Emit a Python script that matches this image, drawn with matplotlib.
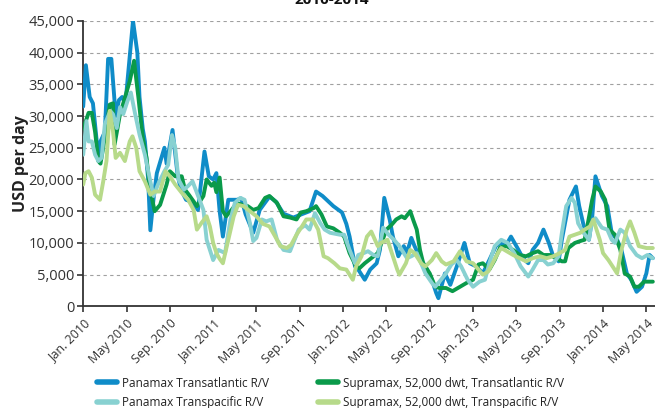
import matplotlib
matplotlib.use("Agg")
import matplotlib.pyplot as plt
import matplotlib.transforms as mtransforms

plt.rcParams['font.family'] = ['Open Sans', 'DejaVu Sans']

# months counted from Jan. 2010 (0 = Jan. 2010)
tick_months = list(range(0, 53, 4))
tick_labels = ["Jan. 2010", "May 2010", "Sep. 2010", "Jan. 2011", "May 2011", "Sep. 2011",
               "Jan. 2012", "May 2012", "Sep. 2012", "Jan. 2013", "May 2013", "Sep. 2013",
               "Jan. 2014", "May 2014"]

# Panamax Transatlantic R/V
pta_m = [0.0, 0.25, 0.6, 0.9, 1.4, 1.6, 2.0, 2.3, 2.6, 3.0, 3.3, 3.6, 3.9, 4.6, 5.0, 5.2, 5.5, 5.7,
         6.0, 6.2, 6.5, 6.8, 7.5, 7.7, 8.25, 8.7, 9.0, 9.5, 10.0, 10.6, 11.2, 11.6, 12.0, 12.3, 12.6,
         12.9, 13.4, 14.2, 14.6, 15.0, 15.7, 16.3, 17.2, 17.8, 18.5, 19.4, 20.3, 20.9, 21.5, 22.1,
         23.1, 23.9, 24.3, 24.6, 25.1, 25.4, 26.0, 26.5, 27.1, 27.4, 27.8, 28.3, 28.6, 29.1, 29.6,
         29.9, 30.3, 30.6, 31.2, 31.6, 32.2, 32.6, 32.8, 33.4, 33.9, 34.5, 35.2, 35.7, 36.3, 36.9,
         37.5, 38.1, 38.5, 39.0, 39.5, 40.2, 40.6, 41.1, 41.5, 42.0, 42.5, 43.0, 43.4, 43.9, 44.2,
         44.9, 45.5, 45.8, 46.3, 46.7, 47.0, 47.3, 47.9, 48.4, 48.8, 49.3, 49.7, 50.2, 50.6, 51.1,
         51.6, 52.0, 52.3, 52.6]
pta_v = [31500, 38000, 33000, 32000, 23500, 26000, 27500, 39000, 39000, 30000, 32500, 33000, 32000,
         45000, 40000, 33000, 28000, 26000, 20000, 12000, 17000, 21000, 25000, 22500, 27800, 21000,
         18500, 16800, 16500, 15200, 24400, 20500, 20000, 21000, 15000, 11000, 16800, 16800, 17000,
         14500, 11600, 15200, 17300, 16500, 14600, 14000, 14600, 15000, 18100, 17400, 15800, 14800,
         13000, 11000, 6300, 5800, 4200, 5800, 6800, 8900, 17100, 13700, 11000, 7900, 9500, 8500,
         10800, 9500, 7300, 6300, 4200, 2100, 1300, 5200, 3400, 6300, 10000, 6800, 6300, 5200, 7300,
         9500, 10000, 9500, 11000, 8900, 7600, 6800, 8900, 10000, 12100, 10000, 7900, 7100, 10500,
         16800, 18900, 15800, 12100, 10500, 14000, 20500, 17400, 15800, 11600, 10500, 8900, 5200,
         4200, 2300, 3100, 5200, 8100, 7600]

# Panamax Transpacific R/V
ptp_m = [0.0, 0.3, 0.5, 0.8, 1.1, 1.4, 1.7, 2.0, 2.5, 2.75, 3.1, 3.4, 3.7, 4.1, 4.4, 4.8, 5.2, 5.7,
         6.2, 6.5, 6.9, 7.5, 7.85, 8.2, 8.5, 8.8, 9.3, 9.7, 10.1, 10.5, 11.1, 11.4, 12.0, 12.5, 13.1,
         13.6, 14.0, 14.5, 14.9, 15.4, 15.7, 16.0, 16.5, 16.9, 17.4, 17.9, 18.5, 19.1, 19.4, 19.9,
         20.5, 20.9, 21.4, 21.9, 22.3, 22.8, 23.7, 24.1, 24.6, 25.1, 25.4, 25.9, 26.3, 26.8, 27.2,
         27.7, 28.2, 28.7, 29.2, 29.9, 30.3, 30.8, 31.2, 31.6, 32.2, 32.5, 32.9, 33.5, 34.0, 34.5,
         34.9, 35.5, 36.0, 36.6, 37.1, 37.5, 38.0, 38.6, 39.2, 39.8, 40.4, 41.1, 41.5, 42.0, 42.5,
         42.9, 43.4, 43.9, 44.2, 44.6, 45.1, 45.4, 45.7, 46.2, 46.7, 46.9, 47.3, 47.9, 48.4, 48.8,
         49.1, 49.6, 50.0, 50.5, 51.1, 51.6, 52.1, 52.6]
ptp_v = [23900, 29200, 26000, 26000, 23900, 22900, 23400, 28700, 30800, 30300, 28100, 31400, 30300,
         32400, 33700, 30300, 27100, 23900, 19700, 17400, 19200, 21300, 22300, 27000, 25000, 20000,
         18400, 19000, 19700, 17900, 15200, 10500, 7300, 8900, 8400, 13700, 16300, 17100, 16800,
         13100, 10300, 10800, 13700, 13400, 13700, 10500, 8900, 8700, 10000, 12100, 12800, 12100,
         14700, 13100, 12100, 11600, 11300, 11300, 8900, 6800, 8100, 8400, 8700, 8100, 7900, 12400,
         11300, 10500, 9500, 7600, 7900, 8400, 6800, 5200, 3700, 3100, 3900, 5200, 6600, 7300, 6300,
         4200, 3100, 3900, 4200, 6800, 9500, 10500, 10000, 8400, 6300, 4700, 5800, 7300, 7300, 6600,
         6800, 7900, 11600, 15800, 17100, 16300, 13100, 11600, 10500, 12600, 13900, 12400, 12100,
         10500, 10000, 12100, 11600, 9500, 8100, 7600, 8100, 7600]

# Supramax, 52,000 dwt, Transatlantic R/V
sta_m = [0.0, 0.5, 0.8, 1.1, 1.4, 1.6, 1.85, 2.45, 2.75, 2.9, 3.4, 3.7, 4.3, 4.7, 5.1, 5.5, 5.85,
         6.15, 6.6, 7.1, 7.7, 8.0, 8.5, 9.1, 9.4, 9.8, 10.5, 11.1, 11.4, 11.85, 12.1, 12.3, 12.6,
         12.9, 13.2, 13.7, 14.2, 14.7, 15.2, 15.7, 16.2, 16.8, 17.2, 17.9, 18.5, 19.1, 19.7, 20.1,
         20.6, 21.3, 21.5, 22.0, 22.5, 23.1, 23.7, 24.1, 24.6, 25.2, 25.5, 26.0, 26.6, 27.2, 28.0,
         28.5, 28.9, 29.4, 29.7, 30.2, 30.5, 30.8, 31.1, 31.4, 32.0, 32.5, 32.9, 33.5, 34.1, 34.8,
         35.4, 36.0, 36.5, 36.9, 37.5, 38.0, 38.5, 39.1, 39.7, 40.3, 40.9, 41.5, 42.0, 42.5, 43.1,
         43.7, 44.2, 44.5, 44.8, 45.4, 45.9, 46.3, 46.6, 47.0, 47.3, 47.8, 48.2, 48.6, 49.1, 49.6,
         50.0, 50.5, 50.9, 51.3, 51.8, 52.2, 52.6]
sta_v = [28000, 30500, 30500, 27500, 22900, 22500, 25000, 31800, 32000, 25500, 30300, 32000, 35500,
         38700, 32900, 26600, 23400, 18700, 15000, 16000, 19200, 21300, 20500, 20500, 18400, 17500,
         15800, 17400, 20000, 19000, 19500, 18000, 20300, 15000, 14200, 15200, 16300, 16000, 15800,
         15200, 15500, 17100, 17400, 16300, 14200, 14000, 13700, 14800, 15000, 15500, 15800, 14500,
         12600, 12300, 11600, 11000, 8400, 6300, 6000, 6800, 7600, 8400, 12100, 12900, 13700, 14200,
         13900, 15000, 13500, 12100, 8900, 6800, 5200, 3100, 2900, 2900, 2400, 3100, 3700, 4200,
         6600, 6800, 5800, 7300, 9300, 9500, 8900, 8100, 7900, 8400, 8700, 8100, 8100, 7600, 7100,
         7100, 9200, 10000, 10300, 10500, 13100, 16800, 18900, 18100, 16800, 12100, 11300, 8900,
         5200, 4700, 3100, 3100, 3900, 3900, 3900]

# Supramax, 52,000 dwt, Transpacific R/V
stp_m = [0.0, 0.2, 0.5, 0.8, 1.1, 1.55, 1.85, 2.15, 2.45, 2.75, 3.0, 3.4, 3.85, 4.3, 4.55, 4.9, 5.2,
         5.7, 6.2, 6.6, 7.1, 7.6, 8.0, 8.5, 9.1, 9.7, 10.2, 10.5, 10.9, 11.4, 11.7, 12.0, 12.3, 12.6,
         12.9, 13.4, 13.9, 14.3, 14.8, 15.4, 16.0, 16.6, 17.2, 17.9, 18.2, 18.8, 19.2, 19.7, 20.2,
         20.6, 21.2, 21.7, 22.2, 22.6, 23.2, 23.7, 24.3, 24.9, 25.2, 25.7, 26.2, 26.6, 27.2, 27.5,
         28.1, 28.5, 29.0, 29.2, 29.8, 30.2, 30.6, 31.2, 31.6, 32.2, 32.6, 33.1, 33.5, 34.2, 34.8,
         35.4, 36.0, 36.5, 36.9, 37.4, 37.8, 38.3, 38.6, 39.1, 39.7, 40.3, 40.9, 41.5, 42.2, 42.8,
         43.4, 44.0, 44.5, 44.9, 45.4, 45.9, 46.3, 46.8, 47.1, 47.4, 47.7, 48.0, 48.5, 49.0, 49.3,
         49.7, 50.2, 50.5, 50.9, 51.3, 52.0, 52.6]
stp_v = [19200, 21000, 21300, 20300, 17600, 16800, 19700, 22900, 30800, 27600, 23400, 24200, 22900,
         26000, 26800, 25000, 21300, 19700, 17600, 18100, 18100, 21300, 20500, 19200, 17900, 16800,
         15200, 12100, 13100, 14200, 12600, 10000, 8400, 7500, 6800, 10500, 14200, 16000, 15800,
         15000, 14200, 13000, 12600, 10500, 9500, 9200, 9700, 11300, 12600, 13700, 13700, 12100,
         7900, 7600, 6800, 6000, 5800, 4200, 6300, 7900, 11000, 11800, 9500, 10000, 10500, 8400,
         5800, 5000, 6800, 8900, 8400, 6800, 6300, 7300, 8400, 7100, 6600, 7100, 8700, 7100, 6800,
         5800, 5000, 5500, 6800, 8400, 9200, 8700, 8100, 7600, 7100, 7600, 7900, 7600, 7900, 8400,
         8900, 11000, 11300, 11600, 12100, 12600, 13700, 12100, 10500, 8400, 7300, 6000, 5200, 8900,
         12100, 13400, 11600, 9500, 9200, 9200]

fig = plt.figure(figsize=(6.55, 4.08), dpi=100)
ax = fig.add_axes([0.127, 0.249, 0.873, 0.700])

lw = 2.8
l1, = ax.plot(pta_m, pta_v, color="#0f8cc8", lw=lw, solid_capstyle="round", solid_joinstyle="round",
              label="Panamax Transatlantic R/V", zorder=3)
l3, = ax.plot(sta_m, sta_v, color="#0a9a4a", lw=lw, solid_capstyle="round", solid_joinstyle="round",
              label="Supramax, 52,000 dwt, Transatlantic R/V", zorder=4)
l2, = ax.plot(ptp_m, ptp_v, color="#88d1d1", lw=lw, solid_capstyle="round", solid_joinstyle="round",
              label="Panamax Transpacific R/V", zorder=5)
l4, = ax.plot(stp_m, stp_v, color="#b7da8a", lw=lw, solid_capstyle="round", solid_joinstyle="round",
              label="Supramax, 52,000 dwt, Transpacific R/V", zorder=6)

ax.set_xlim(0, 52.8)
ax.set_ylim(0, 45000)
ax.set_yticks(range(0, 45001, 5000))
ax.set_yticklabels([f"{v:,}" for v in range(0, 45001, 5000)])
for v in range(5000, 45001, 5000):
    ax.axhline(v, color="#a0a0a0", lw=0.8, ls=(0, (3, 3)), zorder=1)

ax.set_xticks(tick_months)
ax.set_xticklabels(tick_labels, rotation=45, ha="right", va="top", rotation_mode="anchor")
offset = mtransforms.ScaledTranslation(6 / 100, 0, fig.dpi_scale_trans)
for lab in ax.get_xticklabels():
    lab.set_transform(lab.get_transform() + offset)

for side in ["top", "right"]:
    ax.spines[side].set_visible(False)
for side in ["left", "bottom"]:
    ax.spines[side].set_color("#333333")
    ax.spines[side].set_linewidth(1.3)
ax.tick_params(axis="y", length=4.5, width=1.2, color="#333333", labelsize=10.5,
               labelcolor="#333333", pad=2)
ax.tick_params(axis="x", length=4.5, width=1.2, color="#333333", labelsize=9,
               labelcolor="#333333", pad=3)

ax.set_ylabel("USD per day", fontsize=11.5, fontweight="bold", color="#222222", labelpad=-0.5)
fig.text(0.507, 1.0, "2010-2014", ha="center", va="center", fontsize=11, fontweight="bold",
         color="#111111")

leg = fig.legend(handles=[l1, l2, l3, l4], loc="upper left", bbox_to_anchor=(0.1405, 0.0885),
                 ncol=2, frameon=False, fontsize=8.5, handlelength=1.7, handletextpad=0.42,
                 columnspacing=4.2, labelspacing=0.58, borderaxespad=0)
for line in leg.get_lines():
    line.set_linewidth(4)
    line.set_solid_capstyle("round")
for t in leg.get_texts():
    t.set_color("#222222")

fig.savefig("out.png", dpi=100)
